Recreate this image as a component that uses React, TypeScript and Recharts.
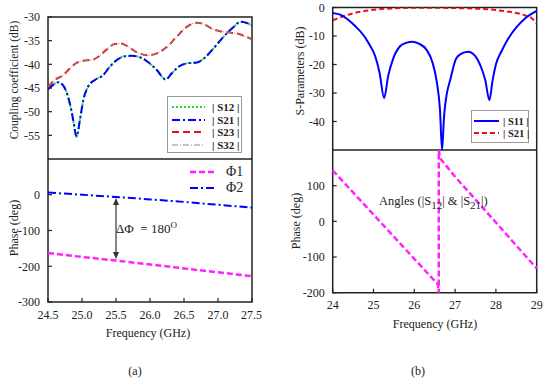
import React from 'react';
import {
  LineChart, Line, XAxis, YAxis, ReferenceArea, ReferenceLine,
} from 'recharts';

// (a) top: coupling coefficient (dB)
const s21Freq = [24.5, 24.57, 24.65, 24.72, 24.77, 24.82, 24.87, 24.92, 24.97, 25.02, 25.09, 25.19, 25.31, 25.41, 25.51, 25.63, 25.73, 25.85, 25.97, 26.1, 26.23, 26.32, 26.42, 26.54, 26.69, 26.79, 26.93, 27.08, 27.23, 27.33, 27.43, 27.5];
const s21Vals = [-45.3, -44.4, -43.8, -44.4, -45.8, -48.2, -51.7, -55.3, -51.7, -47.5, -44.7, -43.3, -42.3, -40.5, -39.1, -38.3, -38.2, -38.5, -39.5, -41.2, -43.2, -41.9, -40.5, -39.8, -39.6, -38.8, -36.7, -34.2, -32.1, -31.0, -31.3, -31.8];
const s23Freq = [24.5, 24.6, 24.72, 24.82, 24.92, 25.04, 25.14, 25.24, 25.36, 25.48, 25.56, 25.66, 25.8, 25.97, 26.1, 26.25, 26.39, 26.54, 26.69, 26.79, 26.93, 27.03, 27.18, 27.28, 27.4, 27.5];
const s23Vals = [-44.8, -43.3, -42.3, -40.9, -39.7, -39.2, -39.1, -38.4, -36.9, -35.7, -35.6, -36.1, -37.4, -38.1, -37.7, -36.3, -34.2, -32.1, -31.2, -31.5, -32.6, -33.0, -33.3, -33.5, -34.1, -34.7];
const couplingTicks = [-55, -50, -45, -40, -35, -30];

// (a) bottom: phase (deg)
const phaseFreqA = [24.5, 25.0, 25.5, 26.0, 26.5, 27.0, 27.5];
const phi1Vals = [-163, -174, -184, -195, -206, -217, -228];
const phi2Vals = [6, 0, -6, -13, -20, -28, -36];
const phaseTicksA = [-300, -200, -100, 0];
const freqTicksA = [24.5, 25.0, 25.5, 26.0, 26.5, 27.0, 27.5];

// (b) top: S-parameters (dB)
const s11Freq = [24.0, 24.2, 24.37, 24.55, 24.77, 24.9, 25.04, 25.15, 25.26, 25.36, 25.48, 25.65, 25.8, 25.96, 26.1, 26.3, 26.45, 26.55, 26.63, 26.68, 26.73, 26.8, 26.87, 27.03, 27.18, 27.32, 27.48, 27.63, 27.74, 27.84, 27.92, 28.0, 28.15, 28.3, 28.5, 28.7, 28.85, 29.0];
const s11Vals = [-1.9, -2.6, -4.2, -6.5, -10, -13, -17, -23, -31.8, -24, -18, -13.6, -12.4, -12, -12.6, -14.8, -19.5, -26, -36, -50, -38, -30, -26, -17.8, -16, -15.5, -16.8, -20.7, -25.5, -32.5, -25.5, -20, -15, -11, -7, -4, -2.4, -1.2];
const s21bFreq = [24.0, 24.3, 24.6, 25.0, 25.5, 26.0, 26.5, 27.0, 27.5, 28.0, 28.4, 28.7, 28.9, 29.0];
const s21bVals = [-4.5, -2.9, -1.7, -0.8, -0.3, -0.1, -0.1, -0.2, -0.4, -0.9, -1.7, -2.7, -4.0, -5.6];
const sparTicks = [-40, -30, -20, -10, 0];

// (b) bottom: angles of S12 & S21
const angleFreq = [24.0, 24.5, 25.0, 25.5, 26.0, 26.5, 26.55, 26.58, 26.6, 26.6, 26.63, 27.0, 27.5, 28.0, 28.5, 29.0];
const angleVals = [143, 81, 19, -43, -105, -167, -170, -179, -200, 200, 177, 125, 61, -3, -68, -132];
const phaseTicksB = [-200, -100, 0, 100];
const freqTicksB = [24, 25, 26, 27, 28, 29];

const zip = (xs: number[], ys: number[]) => xs.map((f, i) => ({ f, v: ys[i] }));

const FONT = '"Liberation Serif", "Times New Roman", serif';
const INK = '#222';
const tick = { fill: INK, fontSize: 12, fontFamily: FONT };
// small inward tick marks, label kept at the usual distance
const axisStyle = { tick, tickLine: { stroke: INK, strokeWidth: 1.2 }, tickSize: -4, tickMargin: 12, axisLine: false };

const Txt = ({ x, y, children, size = 12, rotate = false, bold = false }: any) => (
  <div
    style={{
      position: 'absolute', left: x, top: y, whiteSpace: 'nowrap',
      transform: `translate(-50%, -50%)${rotate ? ' rotate(-90deg)' : ''}`,
      fontSize: size, fontWeight: bold ? 'bold' : 'normal', color: INK, lineHeight: 1,
    }}
  >
    {children}
  </div>
);

const Swatch = ({ color, dash, width = 2, len = 32 }: any) => (
  <svg width={len} height={6} style={{ display: 'block', flexShrink: 0 }}>
    <line x1={0} y1={3} x2={len} y2={3} stroke={color} strokeWidth={width} strokeDasharray={dash} />
  </svg>
);

const frame = (x: [number, number], y: [number, number]) => (
  <ReferenceArea x1={x[0]} x2={x[1]} y1={y[0]} y2={y[1]} fill="none" fillOpacity={0} stroke={INK} strokeWidth={1.5} ifOverflow="visible" />
);

const DoubleArrow = (props: any) => {
  const { x1, y1, x2, y2 } = props;
  return (
    <g>
      <line x1={x1} y1={y1 + 3} x2={x2} y2={y2 - 3} stroke="#333" strokeWidth={1.2} />
      <polygon points={`${x1},${y1} ${x1 - 3},${y1 + 7} ${x1 + 3},${y1 + 7}`} fill="#333" />
      <polygon points={`${x2},${y2} ${x2 - 3},${y2 - 7} ${x2 + 3},${y2 - 7}`} fill="#333" />
    </g>
  );
};

export default function App() {
  return (
    <div style={{ position: 'absolute', left: 0, top: 0, width: 550, height: 380, background: '#fff', fontFamily: FONT, overflow: 'hidden' }}>
      {/* (a) top */}
      <div style={{ position: 'absolute', left: 0, top: 0 }}>
        <LineChart width={262} height={159} margin={{ top: 17, right: 10, left: 0, bottom: 0 }}>
          <XAxis type="number" dataKey="f" domain={[24.5, 27.5]} hide allowDataOverflow />
          <YAxis type="number" domain={[-60, -30]} ticks={couplingTicks} width={48} {...axisStyle} allowDataOverflow />
          <Line data={zip(s21Freq, s21Vals)} dataKey="v" type="monotone" stroke="#22dd22" strokeWidth={2} strokeDasharray="2 2" dot={false} isAnimationActive={false} />
          <Line data={zip(s21Freq, s21Vals)} dataKey="v" type="monotone" stroke="#0000ff" strokeWidth={2} strokeDasharray="8 3 2 3" dot={false} isAnimationActive={false} />
          <Line data={zip(s23Freq, s23Vals)} dataKey="v" type="monotone" stroke="#ee1111" strokeWidth={2} strokeDasharray="7 4" dot={false} isAnimationActive={false} />
          <Line data={zip(s23Freq, s23Vals)} dataKey="v" type="monotone" stroke="#888" strokeWidth={1} strokeDasharray="6 2 1 2" dot={false} isAnimationActive={false} />
          {frame([24.5, 27.5], [-60, -30])}
        </LineChart>
      </div>

      {/* (a) bottom */}
      <div style={{ position: 'absolute', left: 0, top: 159 }}>
        <LineChart width={262} height={175} margin={{ top: 0, right: 10, left: 0, bottom: 2 }}>
          <XAxis type="number" dataKey="f" domain={[24.5, 27.5]} ticks={freqTicksA} tickFormatter={(v: number) => v.toFixed(1)} height={30} {...axisStyle} />
          <YAxis type="number" domain={[-300, 100]} ticks={phaseTicksA} width={48} {...axisStyle} />
          <Line data={zip(phaseFreqA, phi1Vals)} dataKey="v" type="linear" stroke="#ff22ff" strokeWidth={2.5} strokeDasharray="6 3" dot={false} isAnimationActive={false} />
          <Line data={zip(phaseFreqA, phi2Vals)} dataKey="v" type="linear" stroke="#0000ff" strokeWidth={2} strokeDasharray="8 3 2 3" dot={false} isAnimationActive={false} />
          <ReferenceLine segment={[{ x: 25.5, y: -9 }, { x: 25.5, y: -180 }]} shape={DoubleArrow} ifOverflow="visible" />
          {frame([24.5, 27.5], [-300, 100])}
        </LineChart>
      </div>

      {/* (b) top */}
      <div style={{ position: 'absolute', left: 280, top: 0 }}>
        <LineChart width={270} height={150} margin={{ top: 7.5, right: 13.3, left: 0, bottom: 0 }}>
          <XAxis type="number" dataKey="f" domain={[24, 29]} hide allowDataOverflow />
          <YAxis type="number" domain={[-50, 0]} ticks={sparTicks} width={52.7} {...axisStyle} allowDataOverflow />
          <Line data={zip(s21bFreq, s21bVals)} dataKey="v" type="monotone" stroke="#ee1111" strokeWidth={2} strokeDasharray="5 3" dot={false} isAnimationActive={false} />
          <Line data={zip(s11Freq, s11Vals)} dataKey="v" type="monotone" stroke="#0000ff" strokeWidth={2} dot={false} isAnimationActive={false} />
          {frame([24, 29], [-50, 0])}
        </LineChart>
      </div>

      {/* (b) bottom */}
      <div style={{ position: 'absolute', left: 280, top: 150 }}>
        <LineChart width={270} height={175} margin={{ top: 0, right: 13.3, left: 0, bottom: 2.3 }}>
          <XAxis type="number" dataKey="f" domain={[24, 29]} ticks={freqTicksB} height={30} {...axisStyle} />
          <YAxis type="number" domain={[-200, 200]} ticks={phaseTicksB} width={52.7} {...axisStyle} />
          <Line data={zip(angleFreq, angleVals)} dataKey="v" type="linear" stroke="#ff22ff" strokeWidth={2.5} strokeDasharray="6 3" dot={false} isAnimationActive={false} />
          {frame([24, 29], [-200, 200])}
        </LineChart>
      </div>

      {/* axis titles */}
      <Txt x={15} y={80} rotate size={11.5}>Coupling coefficient (dB)</Txt>
      <Txt x={14} y={228} rotate>Phase (deg)</Txt>
      <Txt x={148} y={333}>Frequency (GHz)</Txt>
      <Txt x={300} y={71} rotate>S-Parameters (dB)</Txt>
      <Txt x={296} y={221} rotate>Phase (deg)</Txt>
      <Txt x={435} y={324}>Frequency (GHz)</Txt>
      <Txt x={135} y={371}>(a)</Txt>
      <Txt x={418} y={371}>(b)</Txt>

      {/* (a) top legend */}
      <div style={{ position: 'absolute', left: 167, top: 96, width: 75, height: 57, border: '1px solid #999', background: '#fff', boxSizing: 'border-box' }}>
        {[
          { name: '| S12 |', color: '#22dd22', dash: '2 2', w: 2 },
          { name: '| S21 |', color: '#0000ff', dash: '8 3 2 3', w: 2 },
          { name: '| S23 |', color: '#ee1111', dash: '7 4', w: 2 },
          { name: '| S32 |', color: '#888', dash: '6 2 1 2', w: 1 },
        ].map((s, i) => (
          <div key={s.name} style={{ position: 'absolute', left: 4, top: 4 + i * 12.5, display: 'flex', alignItems: 'center', height: 12, whiteSpace: 'nowrap' }}>
            <Swatch color={s.color} dash={s.dash} width={s.w} len={33} />
            <span style={{ marginLeft: 7, fontSize: 11, fontWeight: 'bold', color: INK }}>{s.name}</span>
          </div>
        ))}
      </div>

      {/* (a) bottom legend */}
      {[
        { name: 'Φ1', color: '#ff22ff', dash: '6 3', w: 2.5 },
        { name: 'Φ2', color: '#0000ff', dash: '8 3 2 3', w: 2 },
      ].map((s, i) => (
        <div key={s.name} style={{ position: 'absolute', left: 190, top: 165 + i * 16, display: 'flex', alignItems: 'center', height: 14, whiteSpace: 'nowrap' }}>
          <Swatch color={s.color} dash={s.dash} width={s.w} len={27} />
          <span style={{ marginLeft: 9, fontSize: 14, color: INK }}>{s.name}</span>
        </div>
      ))}

      {/* ΔΦ annotation */}
      <div style={{ position: 'absolute', left: 116, top: 221, fontSize: 13, color: INK, whiteSpace: 'nowrap', lineHeight: 1 }}>
        ΔΦ &nbsp;= 180<sup style={{ fontSize: 9 }}>O</sup>
      </div>

      {/* (b) top legend */}
      <div style={{ position: 'absolute', left: 471, top: 110, width: 58, height: 33, border: '1px solid #999', background: '#fff', boxSizing: 'border-box' }}>
        {[
          { name: '| S11 |', color: '#0000ff', dash: undefined, w: 2 },
          { name: '| S21 |', color: '#ee1111', dash: '5 3', w: 2 },
        ].map((s, i) => (
          <div key={s.name} style={{ position: 'absolute', left: 2, top: 4 + i * 12.3, display: 'flex', alignItems: 'center', height: 12, whiteSpace: 'nowrap' }}>
            <Swatch color={s.color} dash={s.dash} width={s.w} len={25} />
            <span style={{ marginLeft: 4, fontSize: 10.5, fontWeight: 'bold', color: INK }}>{s.name}</span>
          </div>
        ))}
      </div>

      {/* Angles annotation */}
      <div style={{ position: 'absolute', left: 379, top: 195, fontSize: 12.5, color: INK, whiteSpace: 'nowrap', lineHeight: 1 }}>
        Angles (|S<sub style={{ fontSize: 11 }}>12</sub>| &amp; |S<sub style={{ fontSize: 11 }}>21</sub>|)
      </div>
    </div>
  );
}
